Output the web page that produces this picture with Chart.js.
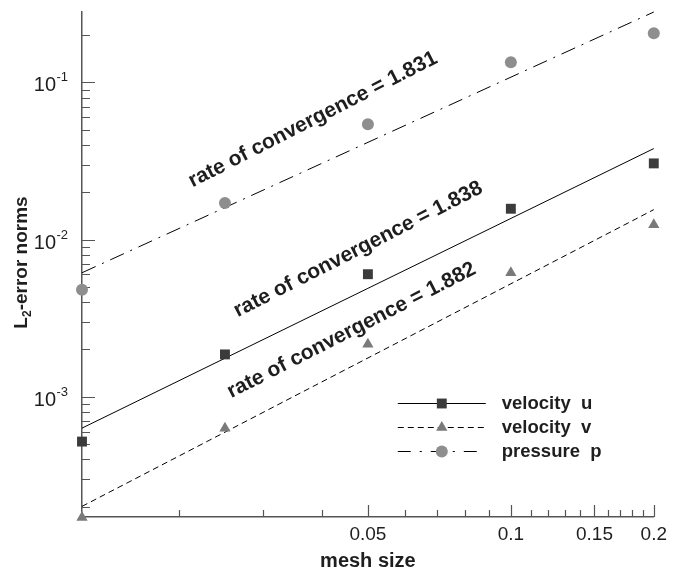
<!DOCTYPE html>
<html>
<head>
<meta charset="utf-8">
<script src="https://cdn.jsdelivr.net/npm/chart.js@4.4.1/dist/chart.umd.min.js"></script>
<style>
  html, body { margin: 0; padding: 0; background: #fff; }
  canvas { display: block; }
</style>
</head>
<body>
<canvas id="chart" width="673" height="571"></canvas>
<script>
/* ---------- data ---------- */
const meshSize = [0.0125, 0.025, 0.05, 0.1, 0.2];
const errU = [5.19e-4, 1.86e-3, 6.02e-3, 1.57e-2, 3.05e-2];
const errV = [1.71e-4, 6.32e-4, 2.16e-3, 6.15e-3, 1.24e-2];
const errP = [4.8e-3, 1.71e-2, 5.41e-2, 0.134, 0.205];

// fitted lines (end points at the smallest and largest mesh size)
const fitX = [0.0125, 0.2];
const fitU = [6.32e-4, 3.79e-2];
const fitV = [2.01e-4, 1.55e-2];
const fitP = [6.15e-3, 0.28];

const seriesNames = ['velocity  u', 'velocity  v', 'pressure  p'];

// convergence notes: text + anchor in data coordinates
const rateText = ['rate of convergence = 1.831', 'rate of convergence = 1.838', 'rate of convergence = 1.882'];
const rateX = [0.0383, 0.0477, 0.0462];
const rateY = [0.0578, 8.64e-3, 2.64e-3];

// axis ticks
const xTickVals = [0.02, 0.03, 0.04, 0.05, 0.06, 0.07, 0.08, 0.09, 0.1,
  0.11, 0.12, 0.13, 0.14, 0.15, 0.16, 0.17, 0.18, 0.19, 0.2];
const xMajor = [0.05, 0.1, 0.15, 0.2];
const yTickVals = [2e-4, 3e-4, 4e-4, 5e-4, 6e-4, 7e-4, 8e-4, 9e-4,
  1e-3, 2e-3, 3e-3, 4e-3, 5e-3, 6e-3, 7e-3, 8e-3, 9e-3,
  1e-2, 2e-2, 3e-2, 4e-2, 5e-2, 6e-2, 7e-2, 8e-2, 9e-2, 0.1, 0.2];
const yDecades = [1e-3, 1e-2, 1e-1];

/* ---------- styles ---------- */
const FONT = '"Liberation Sans", Arial, Helvetica, sans-serif';
const INK = '#1e1e1e';
const AXIS = '#555';
const markU = { pointStyle: 'rect', radius: 7, color: '#3b3b3b' };
const markV = { pointStyle: 'triangle', radius: 6.5, color: '#7a7a7a' };
const markP = { pointStyle: 'circle', radius: 6, color: '#8e8e8e' };
const dashU = [];
const dashV = [6, 4];
const dashP = [15, 7, 2, 7];

Chart.defaults.font.family = FONT;

const pts = (xs, ys) => xs.map((x, i) => ({ x, y: ys[i] }));

function markerSet(label, ys, m) {
  return {
    label, data: pts(meshSize, ys), showLine: false, clip: false,
    pointStyle: m.pointStyle, pointRadius: m.radius, pointHoverRadius: m.radius,
    backgroundColor: m.color, borderColor: m.color, borderWidth: 0
  };
}
function fitSet(ys, dash) {
  return {
    data: pts(fitX, ys), showLine: true, pointRadius: 0, clip: false,
    borderColor: '#000', borderWidth: 1, borderDash: dash, fill: false
  };
}

/* ---------- custom drawing: inward ticks, y labels, notes, legend ---------- */
const decorations = {
  id: 'decorations',
  beforeDatasetsDraw(chart) {
    const { ctx, chartArea: a, scales: { x, y } } = chart;
    ctx.save();
    ctx.strokeStyle = AXIS;
    ctx.lineWidth = 1.2;
    ctx.beginPath();
    xTickVals.forEach(v => {
      const px = Math.round(x.getPixelForValue(v)) + 0.5;
      const len = xMajor.includes(v) ? 12 : 7;
      ctx.moveTo(px, a.bottom);
      ctx.lineTo(px, a.bottom - len);
    });
    yTickVals.forEach(v => {
      const py = Math.round(y.getPixelForValue(v)) + 0.5;
      const len = yDecades.includes(v) ? 13 : 8;
      ctx.moveTo(a.left, py);
      ctx.lineTo(a.left + len, py);
    });
    ctx.stroke();

    // y tick labels 10^n
    ctx.fillStyle = INK;
    ctx.textBaseline = 'alphabetic';
    yDecades.forEach(v => {
      const py = y.getPixelForValue(v);
      const exp = String(Math.round(Math.log10(v)));
      ctx.font = `20px ${FONT}`;
      ctx.textAlign = 'right';
      ctx.fillText('10', a.left - 26, py + 9);
      ctx.font = `13px ${FONT}`;
      ctx.textAlign = 'left';
      ctx.fillText(exp, a.left - 25.5, py - 1);
    });

    // y axis title with subscript
    ctx.translate(22, (a.top + a.bottom) / 2 - 2);
    ctx.rotate(-Math.PI / 2);
    const big = `bold 19px ${FONT}`, small = `bold 12px ${FONT}`;
    ctx.font = big; const wL = ctx.measureText('L').width;
    const wRest = ctx.measureText('-error norms').width;
    ctx.font = small; const w2 = ctx.measureText('2').width;
    let cx = -(wL + w2 + wRest) / 2;
    ctx.textAlign = 'left';
    ctx.textBaseline = 'middle';
    ctx.font = big; ctx.fillText('L', cx, 0); cx += wL;
    ctx.font = small; ctx.fillText('2', cx, 6); cx += w2;
    ctx.font = big; ctx.fillText('-error norms', cx, 0);
    ctx.restore();
  },
  afterDatasetsDraw(chart) {
    const { ctx, chartArea: a, scales: { x, y } } = chart;
    ctx.save();
    // convergence notes
    ctx.fillStyle = INK;
    ctx.font = `bold 21px ${FONT}`;
    ctx.textAlign = 'center';
    ctx.textBaseline = 'middle';
    rateText.forEach((t, i) => {
      ctx.save();
      ctx.translate(x.getPixelForValue(rateX[i]), y.getPixelForValue(rateY[i]));
      ctx.rotate(-27 * Math.PI / 180);
      ctx.fillText(t, 0, 0);
      ctx.restore();
    });

    // legend
    const marks = [markU, markV, markP];
    const dashes = [dashU, dashV, [13, 9, 2, 9]];
    const x0 = a.right - 256, x1 = a.right - 168, xm = a.right - 212, xt = a.right - 152;
    const rows = [a.bottom - 114, a.bottom - 90, a.bottom - 66];
    seriesNames.forEach((name, i) => {
      const ry = rows[i] + 0.5;
      ctx.strokeStyle = '#000';
      ctx.lineWidth = 1;
      ctx.setLineDash(dashes[i]);
      ctx.beginPath();
      ctx.moveTo(x0, ry);
      ctx.lineTo(x1, ry);
      ctx.stroke();
      ctx.setLineDash([]);
      ctx.fillStyle = marks[i].color;
      ctx.strokeStyle = marks[i].color;
      Chart.helpers.drawPoint(ctx, { pointStyle: marks[i].pointStyle, radius: marks[i].radius, rotation: 0, borderWidth: 0 }, xm, ry);
      ctx.fillStyle = INK;
      ctx.font = `bold 18.5px ${FONT}`;
      ctx.textAlign = 'left';
      ctx.textBaseline = 'middle';
      ctx.fillText(name, xt, ry);
    });
    ctx.restore();
  }
};

new Chart(document.getElementById('chart'), {
  type: 'scatter',
  data: {
    datasets: [
      markerSet(seriesNames[0], errU, markU),
      markerSet(seriesNames[1], errV, markV),
      markerSet(seriesNames[2], errP, markP),
      fitSet(fitU, dashU),
      fitSet(fitV, dashV),
      fitSet(fitP, dashP)
    ]
  },
  options: {
    responsive: false,
    animation: false,
    events: [],
    layout: { padding: { top: 12, right: 15, left: 0, bottom: 0 } },
    plugins: { legend: { display: false }, tooltip: { enabled: false } },
    scales: {
      x: {
        type: 'logarithmic', min: 0.0125, max: 0.2,
        grid: { display: false, drawTicks: false },
        border: { display: true, color: AXIS, width: 1.5 },
        afterBuildTicks: s => { s.ticks = xTickVals.map(v => ({ value: v })); },
        afterFit: s => { s.height = 54; },
        ticks: {
          autoSkip: false, maxRotation: 0, minRotation: 0, padding: 6,
          color: INK, font: { size: 19 },
          callback: v => xMajor.includes(v) ? String(v) : ''
        },
        title: {
          display: true, text: 'mesh size', color: INK,
          font: { size: 20, weight: 'bold' }, padding: { top: 0, bottom: -2 }
        }
      },
      y: {
        type: 'logarithmic', min: 1.72e-4, max: 0.28,
        grid: { display: false, drawTicks: false },
        border: { display: true, color: AXIS, width: 1.5 },
        afterBuildTicks: s => { s.ticks = yTickVals.map(v => ({ value: v })); },
        afterFit: s => { s.width = 82; },
        ticks: { display: false }
      }
    }
  },
  plugins: [decorations]
});
</script>
</body>
</html>
